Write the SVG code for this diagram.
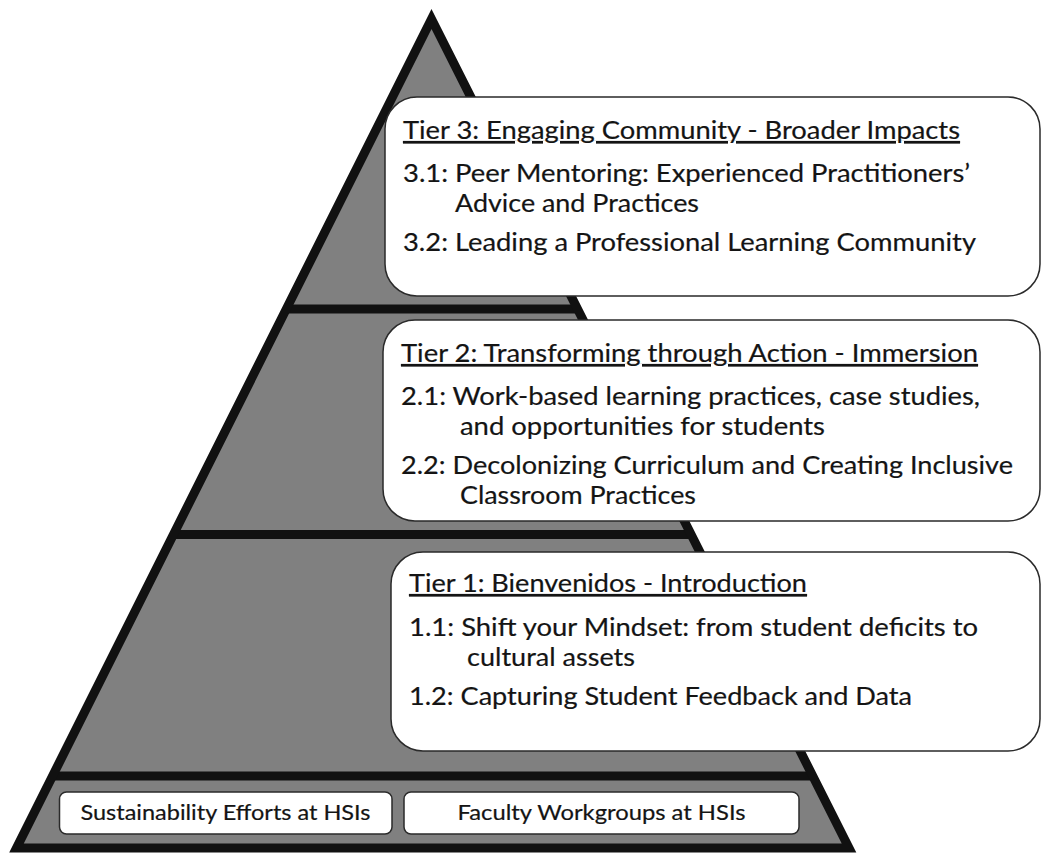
<svg xmlns="http://www.w3.org/2000/svg" width="1042" height="856" viewBox="0 0 1042 856">
  <style>
    .pyr { fill: #808080; stroke: none; }
    .edge { fill: none; stroke: #111; stroke-width: 9; stroke-linejoin: miter; }
    .band { stroke: #111; stroke-width: 9; }
    .card { fill: #fff; stroke: #2a2a2a; stroke-width: 1.5; }
    .chip { fill: #fff; stroke: #2a2a2a; stroke-width: 1.5; }
    text { font-family: Lato, "Open Sans", "Liberation Sans", sans-serif; fill: #141414; stroke: #141414; stroke-width: 0.2; }
    .t { font-size: 25.5px; }
    .h { font-size: 25.5px; text-decoration: underline; }
    .f { font-size: 21.5px; text-anchor: middle; }
  </style>

  <!-- pyramid body -->
  <g id="pyramid">
    <polygon class="pyr" points="431.5,19 16.5,848 849,848"/>
  </g>

  <!-- tier dividers -->
  <g id="dividers">
    <line class="band" x1="286" y1="309" x2="578" y2="309"/>
    <line class="band" x1="173" y1="534.5" x2="692" y2="534.5"/>
    <line class="band" x1="52" y1="776" x2="814" y2="776"/>
  </g>

  <!-- pyramid outline -->
  <g id="outline">
    <polygon class="edge" points="431.5,19 16.5,848 849,848"/>
  </g>

  <!-- Tier 3 -->
  <g id="tier3">
    <rect class="card" x="385" y="97" width="655" height="199" rx="32" ry="32"/>
    <text class="h" x="403" y="139" textLength="557" lengthAdjust="spacingAndGlyphs">Tier 3: Engaging Community - Broader Impacts</text>
    <text class="t" x="403" y="182" textLength="567" lengthAdjust="spacingAndGlyphs">3.1: Peer Mentoring: Experienced Practitioners’</text>
    <text class="t" x="455" y="212" textLength="244" lengthAdjust="spacingAndGlyphs">Advice and Practices</text>
    <text class="t" x="403" y="251" textLength="573" lengthAdjust="spacingAndGlyphs">3.2: Leading a Professional Learning Community</text>
  </g>

  <!-- Tier 2 -->
  <g id="tier2">
    <rect class="card" x="383" y="320" width="657" height="201" rx="32" ry="32"/>
    <text class="h" x="401" y="362" textLength="577" lengthAdjust="spacingAndGlyphs">Tier 2: Transforming through Action - Immersion</text>
    <text class="t" x="401" y="405" textLength="579" lengthAdjust="spacingAndGlyphs">2.1: Work-based learning practices, case studies,</text>
    <text class="t" x="460" y="435" textLength="365" lengthAdjust="spacingAndGlyphs">and opportunities for students</text>
    <text class="t" x="401" y="474" textLength="612" lengthAdjust="spacingAndGlyphs">2.2: Decolonizing Curriculum and Creating Inclusive</text>
    <text class="t" x="460" y="504" textLength="236" lengthAdjust="spacingAndGlyphs">Classroom Practices</text>
  </g>

  <!-- Tier 1 -->
  <g id="tier1">
    <rect class="card" x="391" y="552" width="649" height="199" rx="32" ry="32"/>
    <text class="h" x="409" y="592" textLength="398" lengthAdjust="spacingAndGlyphs">Tier 1: Bienvenidos - Introduction</text>
    <text class="t" x="409" y="636" textLength="569" lengthAdjust="spacingAndGlyphs">1.1: Shift your Mindset: from student deficits to</text>
    <text class="t" x="467" y="666" textLength="168" lengthAdjust="spacingAndGlyphs">cultural assets</text>
    <text class="t" x="409" y="705" textLength="503" lengthAdjust="spacingAndGlyphs">1.2: Capturing Student Feedback and Data</text>
  </g>

  <!-- foundation -->
  <g id="sustainability">
    <rect class="chip" x="59.5" y="792" width="332.5" height="42" rx="7" ry="7"/>
    <text class="f" x="225.5" y="820" textLength="290" lengthAdjust="spacingAndGlyphs">Sustainability Efforts at HSIs</text>
  </g>
  <g id="workgroups">
    <rect class="chip" x="404" y="792" width="395" height="42" rx="7" ry="7"/>
    <text class="f" x="601.5" y="820" textLength="288" lengthAdjust="spacingAndGlyphs">Faculty Workgroups at HSIs</text>
  </g>
</svg>
